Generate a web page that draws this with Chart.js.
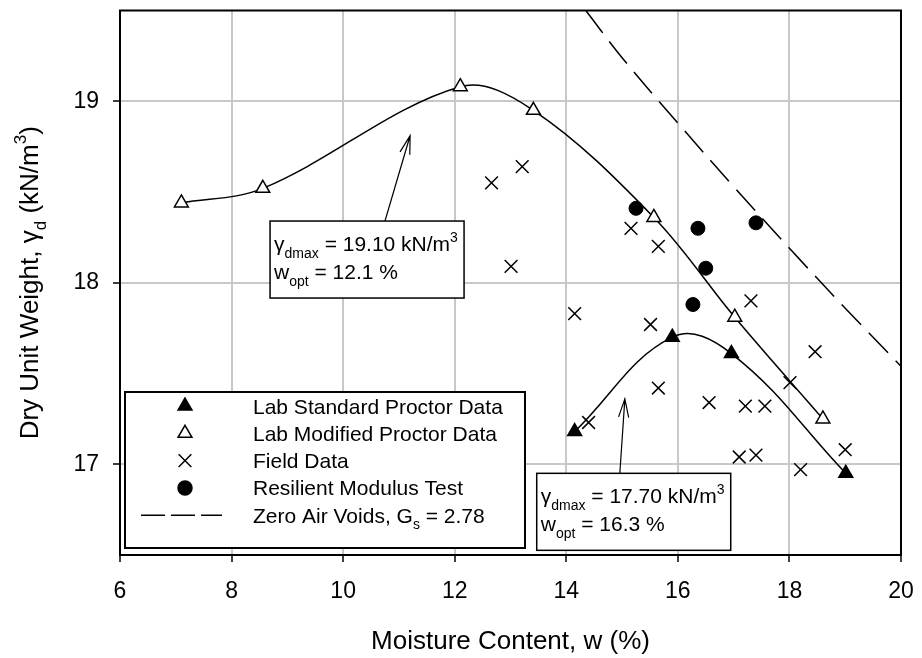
<!DOCTYPE html>
<html>
<head>
<meta charset="utf-8">
<title>Compaction curves</title>
<script src="https://cdn.jsdelivr.net/npm/chart.js@4.4.1/dist/chart.umd.min.js"></script>
<style>
  html, body { margin: 0; padding: 0; background: #fff; }
  canvas { display: block; }
</style>
</head>
<body>
<canvas id="proctorChart" width="922" height="658"></canvas>
<script>
// moisture content w (%) / dry unit weight (kN/m3)
const stdW = [14.15, 15.90, 16.96, 19.01];
const stdG = [17.18, 17.70, 17.61, 16.95];

const modW = [7.10, 8.56, 12.10, 13.41, 15.57, 17.02, 18.60];
const modG = [18.44, 18.52, 19.08, 18.95, 18.36, 17.81, 17.25];

const fieldW = [12.66, 13.21, 13.01, 15.16, 15.65, 14.15, 15.51, 17.31, 18.46, 18.01,
                15.65, 16.56, 17.21, 17.56, 14.40, 17.10, 17.40, 19.00, 18.20];
const fieldG = [18.55, 18.64, 18.09, 18.30, 18.20, 17.83, 17.77, 17.90, 17.62, 17.45,
                17.42, 17.34, 17.32, 17.32, 17.23, 17.04, 17.05, 17.08, 16.97];

const mrW = [15.25, 16.36, 17.40, 16.50, 16.27];
const mrG = [18.41, 18.30, 18.33, 18.08, 17.88];

const zavW = [14.35, 15, 16, 17, 18, 19, 20];
const zavG = [19.50, 19.24, 18.88, 18.53, 18.19, 17.86, 17.54];

const xTicks = [6, 8, 10, 12, 14, 16, 18, 20];
const yTicks = [17, 18, 19];

const FONT = '"Liberation Sans", Arial, Helvetica, sans-serif';

function pts(xs, ys) {
  return xs.map((x, i) => ({ x: x, y: ys[i] }));
}

// text boxes, anchored in data units
const notes = [
  { left: 8.69, top: 18.34, w: 194, h: 77,
    lines: [[{ t: 'γ' }, { t: 'dmax', sub: true }, { t: ' = 19.10 kN/m' }, { t: '3', sup: true }],
            [{ t: 'w' }, { t: 'opt', sub: true }, { t: ' = 12.1 %' }]],
    arrow: { from: [10.75, 18.34], to: [11.20, 18.81] } },
  { left: 13.47, top: 16.95, w: 194, h: 77,
    lines: [[{ t: 'γ' }, { t: 'dmax', sub: true }, { t: ' = 17.70 kN/m' }, { t: '3', sup: true }],
            [{ t: 'w' }, { t: 'opt', sub: true }, { t: ' = 16.3 %' }]],
    arrow: { from: [14.96, 16.95], to: [15.05, 17.36] } }
];

const legendItems = [
  { parts: [{ t: 'Lab Standard Proctor Data' }], style: 'triangle', fill: '#000', r: 8 },
  { parts: [{ t: 'Lab Modified Proctor Data' }], style: 'triangle', fill: '#fff', r: 8 },
  { parts: [{ t: 'Field Data' }], style: 'crossRot', fill: '#000', r: 9 },
  { parts: [{ t: 'Resilient Modulus Test' }], style: 'circle', fill: '#000', r: 7 },
  { parts: [{ t: 'Zero Air Voids, G' }, { t: 's', sub: true }, { t: ' = 2.78' }], style: 'dash' }
];

function partsWidth(ctx, parts, size) {
  let w = 0;
  parts.forEach(p => {
    ctx.font = ((p.sub || p.sup) ? Math.round(size * 0.66) : size) + 'px ' + FONT;
    w += ctx.measureText(p.t).width;
  });
  return w;
}

function richText(ctx, parts, x, y, size) {
  ctx.textAlign = 'left';
  parts.forEach(p => {
    const s = (p.sub || p.sup) ? Math.round(size * 0.66) : size;
    ctx.font = s + 'px ' + FONT;
    const dy = p.sub ? size * 0.32 : (p.sup ? -size * 0.45 : 0);
    ctx.fillText(p.t, x, y + dy);
    x += ctx.measureText(p.t).width;
  });
}

function marker(ctx, style, r, x, y) {
  if (Chart.helpers && Chart.helpers.drawPoint) {
    Chart.helpers.drawPoint(ctx, { pointStyle: style, radius: r, rotation: 0, borderWidth: 1.5 }, x, y);
    return;
  }
  ctx.beginPath();
  if (style === 'circle') {
    ctx.arc(x, y, r, 0, Math.PI * 2);
  } else if (style === 'triangle') {
    ctx.moveTo(x, y - r);
    ctx.lineTo(x + r * 0.866, y + r / 2);
    ctx.lineTo(x - r * 0.866, y + r / 2);
    ctx.closePath();
  } else {
    const d = r * Math.SQRT1_2;
    ctx.moveTo(x - d, y - d); ctx.lineTo(x + d, y + d);
    ctx.moveTo(x + d, y - d); ctx.lineTo(x - d, y + d);
  }
  ctx.fill();
  ctx.stroke();
}

function arrow(ctx, x0, y0, x1, y1) {
  const a = Math.atan2(y1 - y0, x1 - x0);
  const len = 19, spread = 0.27;
  ctx.beginPath();
  ctx.moveTo(x0, y0);
  ctx.lineTo(x1, y1);
  ctx.moveTo(x1 - len * Math.cos(a - spread), y1 - len * Math.sin(a - spread));
  ctx.lineTo(x1, y1);
  ctx.lineTo(x1 - len * Math.cos(a + spread), y1 - len * Math.sin(a + spread));
  ctx.stroke();
}

const decorations = {
  id: 'decorations',
  beforeDatasetsDraw(chart) {
    const { ctx, chartArea: a } = chart;
    ctx.save();
    ctx.strokeStyle = '#000';
    ctx.lineWidth = 2;
    ctx.strokeRect(a.left, a.top, a.right - a.left, a.bottom - a.top);
    ctx.restore();
  },
  afterDatasetsDraw(chart) {
    const { ctx, chartArea: a } = chart;
    const xs = chart.scales.x, ys = chart.scales.y;
    ctx.save();
    ctx.fillStyle = '#000';
    ctx.strokeStyle = '#000';
    ctx.textBaseline = 'alphabetic';

    // legend
    const lx = a.left + 5, ly = a.bottom - 7 - 156, lw = 400, lh = 156;
    ctx.fillStyle = '#fff';
    ctx.fillRect(lx, ly, lw, lh);
    ctx.lineWidth = 2;
    ctx.strokeRect(lx, ly, lw, lh);
    legendItems.forEach((it, i) => {
      const cy = ly + 14 + i * 27.3;
      const mx = lx + 60;
      ctx.lineWidth = 1.5;
      ctx.strokeStyle = '#000';
      if (it.style === 'dash') {
        ctx.save();
        ctx.setLineDash([24, 6]);
        ctx.beginPath();
        ctx.moveTo(lx + 16, cy);
        ctx.lineTo(lx + 97, cy);
        ctx.stroke();
        ctx.restore();
      } else {
        ctx.fillStyle = it.fill;
        marker(ctx, it.style, it.r, mx, cy);
      }
      ctx.fillStyle = '#000';
      richText(ctx, it.parts, lx + 128, cy + 7.5, 21);
    });

    // value boxes with arrows
    notes.forEach(n => {
      const bx = xs.getPixelForValue(n.left), by = ys.getPixelForValue(n.top);
      ctx.fillStyle = '#fff';
      ctx.fillRect(bx, by, n.w, n.h);
      ctx.lineWidth = 1.5;
      ctx.strokeRect(bx, by, n.w, n.h);
      ctx.fillStyle = '#000';
      richText(ctx, n.lines[0], bx + 4, by + 30, 21);
      richText(ctx, n.lines[1], bx + 4, by + 58, 21);
      ctx.lineWidth = 1.2;
      arrow(ctx,
        xs.getPixelForValue(n.arrow.from[0]), ys.getPixelForValue(n.arrow.from[1]),
        xs.getPixelForValue(n.arrow.to[0]), ys.getPixelForValue(n.arrow.to[1]));
    });

    // axis titles
    const xTitle = [{ t: 'Moisture Content, w (%)' }];
    const xtw = partsWidth(ctx, xTitle, 26);
    richText(ctx, xTitle, (a.left + a.right) / 2 - xtw / 2, 649, 26);

    const yTitle = [{ t: 'Dry Unit Weight, γ' }, { t: 'd', sub: true }, { t: ' (kN/m' }, { t: '3', sup: true }, { t: ')' }];
    const ytw = partsWidth(ctx, yTitle, 26);
    ctx.translate(38, (a.top + a.bottom) / 2);
    ctx.rotate(-Math.PI / 2);
    richText(ctx, yTitle, -ytw / 2, 0, 26);
    ctx.restore();
  }
};

const axisCommon = {
  type: 'linear',
  grid: { color: '#c8c8c8', lineWidth: 2, tickLength: 7, tickColor: '#000', tickWidth: 1.5 },
  border: { display: false },
  ticks: { color: '#000', font: { family: FONT, size: 23 } }
};

new Chart(document.getElementById('proctorChart'), {
  type: 'scatter',
  data: {
    datasets: [
      {
        label: 'Lab Standard Proctor Data',
        data: pts(stdW, stdG),
        showLine: true, tension: 0.4,
        borderColor: '#000', borderWidth: 1.5,
        pointStyle: 'triangle', pointRadius: 8,
        pointBackgroundColor: '#000', pointBorderColor: '#000', pointBorderWidth: 1.5
      },
      {
        label: 'Lab Modified Proctor Data',
        data: pts(modW, modG),
        showLine: true, tension: 0.35,
        borderColor: '#000', borderWidth: 1.5,
        pointStyle: 'triangle', pointRadius: 8,
        pointBackgroundColor: '#fff', pointBorderColor: '#000', pointBorderWidth: 1.5
      },
      {
        label: 'Field Data',
        data: pts(fieldW, fieldG),
        pointStyle: 'crossRot', pointRadius: 9,
        pointBorderColor: '#000', pointBorderWidth: 1.5
      },
      {
        label: 'Resilient Modulus Test',
        data: pts(mrW, mrG),
        pointStyle: 'circle', pointRadius: 7,
        pointBackgroundColor: '#000', pointBorderColor: '#000'
      },
      {
        label: 'Zero Air Voids, Gs = 2.78',
        data: pts(zavW, zavG),
        showLine: true, tension: 0.4,
        borderColor: '#000', borderWidth: 1.5, borderDash: [28, 11],
        pointRadius: 0
      }
    ]
  },
  options: {
    responsive: false,
    animation: false,
    devicePixelRatio: 1,
    layout: { padding: { top: 8, right: 21, left: 0, bottom: 0 } },
    plugins: { legend: { display: false }, tooltip: { enabled: false } },
    scales: {
      x: Object.assign({}, axisCommon, {
        min: 6, max: 20,
        ticks: Object.assign({}, axisCommon.ticks, { padding: 16 }),
        afterBuildTicks: s => { s.ticks = xTicks.map(v => ({ value: v })); },
        afterFit: s => { s.height = 103; s.paddingLeft = 0; s.paddingRight = 0; }
      }),
      y: Object.assign({}, axisCommon, {
        min: 16.5, max: 19.5,
        ticks: Object.assign({}, axisCommon.ticks, { padding: 14 }),
        afterBuildTicks: s => { s.ticks = yTicks.map(v => ({ value: v })); },
        afterFit: s => { s.width = 120; s.paddingTop = 0; s.paddingBottom = 0; }
      })
    }
  },
  plugins: [decorations]
});
</script>
</body>
</html>
